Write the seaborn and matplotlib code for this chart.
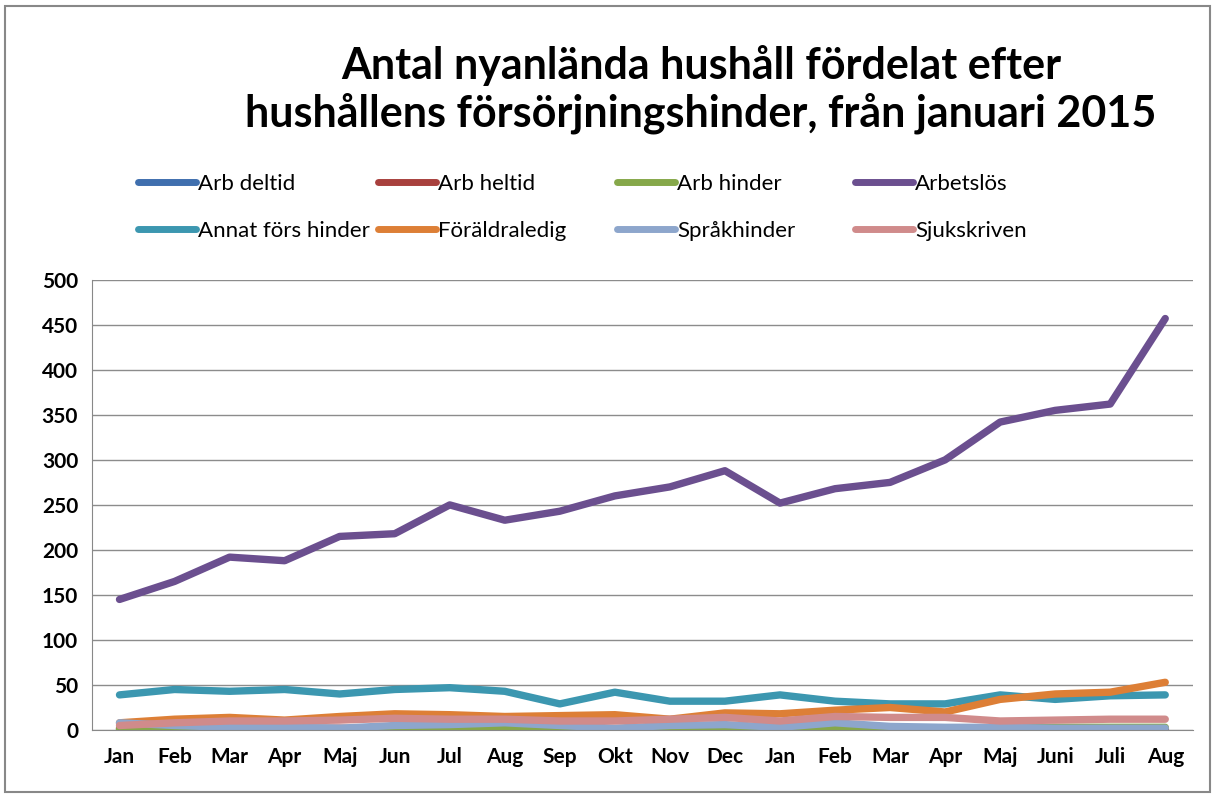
import numpy as np
import pandas as pd
import matplotlib
matplotlib.use("Agg")
import matplotlib.pyplot as plt
import seaborn as sns

months = ["Jan", "Feb", "Mar", "Apr", "Maj", "Jun", "Jul", "Aug", "Sep", "Okt",
          "Nov", "Dec", "Jan", "Feb", "Mar", "Apr", "Maj", "Juni", "Juli", "Aug"]

arb_deltid = [1, 1, 1, 1, 1, 1, 1, 1, 1, 1, 1, 1, 1, 1, 1, 1, 1, 1, 1, 1]
arb_heltid = [2, 2, 2, 2, 2, 1, 1, 1, 1, 1, 1, 1, 1, 1, 1, 1, 1, 1, 1, 1]
arb_hinder = [1, 1, 1, 1, 1, 1, 1, 1, 1, 1, 1, 1, 2, 2, 2, 2, 2, 3, 3, 3]
arbetslos = [145, 165, 192, 188, 215, 218, 250, 233, 243, 260,
             270, 288, 252, 268, 275, 300, 342, 355, 362, 457]
annat = [39, 45, 43, 45, 40, 45, 47, 43, 29, 42,
         32, 32, 39, 32, 29, 29, 39, 34, 38, 39]
foraldraledig = [8, 12, 14, 11, 15, 18, 17, 15, 16, 17,
                 12, 19, 18, 22, 25, 20, 34, 40, 42, 53]
sprakhinder = [8, 5, 3, 3, 2, 5, 6, 8, 5, 2,
               5, 6, 3, 8, 4, 3, 3, 2, 2, 2]
sjukskriven = [5, 8, 10, 10, 11, 13, 12, 12, 10, 10,
               12, 14, 10, 15, 14, 14, 10, 11, 12, 12]

series = {
    "Arb deltid": arb_deltid,
    "Arb heltid": arb_heltid,
    "Arb hinder": arb_hinder,
    "Arbetslös": arbetslos,
    "Annat förs hinder": annat,
    "Föräldraledig": foraldraledig,
    "Språkhinder": sprakhinder,
    "Sjukskriven": sjukskriven,
}
colors = ["#3f6fae", "#a8403d", "#86a84a", "#6b4f8f",
          "#3c97b0", "#dd7f36", "#8da6cc", "#d08b8b"]

rows = []
for name, vals in series.items():
    for i, v in enumerate(vals):
        rows.append({"x": i, "Antal": v, "Hinder": name})
df = pd.DataFrame(rows)

sns.set_style("white")
plt.rcParams["font.family"] = ["Lato", "DejaVu Sans"]
plt.rcParams["text.color"] = "black"
plt.rcParams["xtick.labelcolor"] = "black"
plt.rcParams["ytick.labelcolor"] = "black"

fig = plt.figure(figsize=(12.15, 7.94), dpi=100)
ax = fig.add_axes([0.0757, 0.0806, 0.906, 0.567])

sns.lineplot(data=df, x="x", y="Antal", hue="Hinder", hue_order=list(series.keys()),
             palette=colors, linewidth=5.3, ax=ax, legend=False,
             solid_capstyle="round", solid_joinstyle="round")

ax.set_xlim(-0.5, len(months) - 0.5)
ax.set_ylim(0, 500)
ax.set_yticks(np.arange(0, 501, 50))
ax.set_xticks(np.arange(len(months)))
ax.set_xticklabels(months, fontsize=15, fontweight="bold")
ax.set_xticks(np.arange(-0.5, len(months), 1), minor=True)
ax.tick_params(axis="x", which="major", length=0, pad=12)
ax.tick_params(axis="x", which="minor", length=7, color="#888888", width=1, direction="out")
ax.tick_params(axis="y", length=6, color="#888888", labelsize=15, direction="out", pad=4)
for lbl in ax.get_yticklabels():
    lbl.set_fontweight("bold")
ax.yaxis.grid(True, color="#8c8c8c", linewidth=1)
ax.set_axisbelow(True)
ax.set_xlabel("")
ax.set_ylabel("")
for side in ["top", "right"]:
    ax.spines[side].set_visible(False)
for side in ["left", "bottom"]:
    ax.spines[side].set_color("#888888")

# legend: 4 columns x 2 rows, filled row-wise like Excel
col_x = [138 / 1215, 378 / 1215, 617 / 1215, 855 / 1215]
row_y = [1 - 184 / 794, 1 - 231 / 794]
for k, (name, c) in enumerate(zip(series.keys(), colors)):
    h = plt.Line2D([], [], color=c, linewidth=5, solid_capstyle="round")
    fig.legend([h], [name], loc="center left", bbox_to_anchor=(col_x[k % 4], row_y[k // 4]),
               frameon=False, fontsize=16, handlelength=2.6, handletextpad=0.1,
               borderpad=0, borderaxespad=0, labelcolor="black")

fig.text(0.577, 0.887, "Antal nyanlända hushåll fördelat efter\nhushållens försörjningshinder, från januari 2015",
         ha="center", va="center", fontsize=31, fontweight="bold", linespacing=1.2,
         color="black")

fig.patches.append(plt.Rectangle((0.004, 0.003), 0.992, 0.99, transform=fig.transFigure,
                                 fill=False, edgecolor="#888888", linewidth=1.5))

fig.savefig("out.png", dpi=100)
